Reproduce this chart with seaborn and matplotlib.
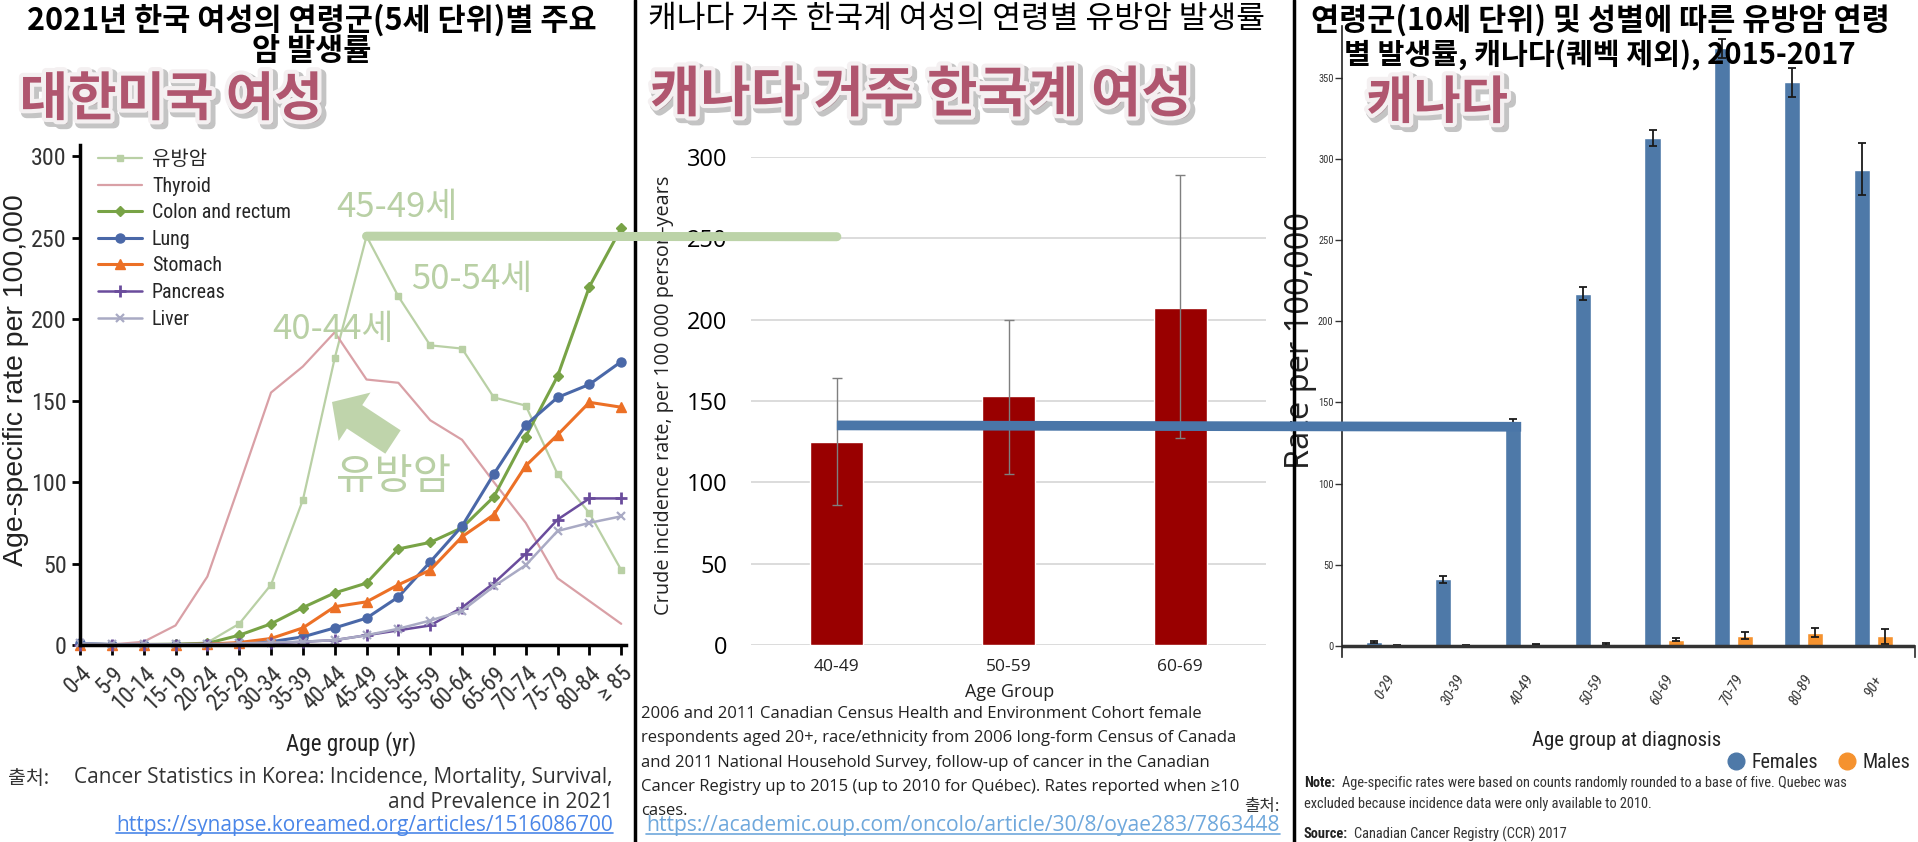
import matplotlib
matplotlib.use("Agg")
import numpy as np
import pandas as pd
import seaborn as sns
import matplotlib.pyplot as plt
import matplotlib.patheffects as pe
from matplotlib import font_manager
from matplotlib.lines import Line2D
from matplotlib.patches import ConnectionPatch, FancyArrow
from matplotlib.transforms import Affine2D, IdentityTransform

# ---- 한국 여성 2021, 5세 단위 (per 100,000)
ages_kr = ['0-4', '5-9', '10-14', '15-19', '20-24', '25-29', '30-34', '35-39', '40-44',
           '45-49', '50-54', '55-59', '60-64', '65-69', '70-74', '75-79', '80-84', '≥ 85']
breast = [0.5, 0.3, 0.3, 0.5, 1.5, 13, 37, 89, 176, 251, 214, 184, 182, 152, 147, 105, 81, 46]
thyroid = [0.3, 0.3, 2, 12, 42, 98, 155, 171, 192, 163, 161, 138, 126, 100, 75, 41, 27, 13]
colon = [0.5, 0.3, 0.3, 0.5, 1, 6, 13, 23, 32, 38, 59, 63, 72, 91, 128, 165, 220, 256]
lung = [1, 0.3, 0.3, 0.3, 0.5, 1, 2, 5, 10.5, 16.5, 29.5, 51, 73, 105, 135, 152, 160, 174]
stomach = [0.3, 0.3, 0.3, 0.3, 0.5, 1.5, 4, 10.5, 23.5, 26.5, 37, 46, 66.5, 80, 110, 129, 149, 146]
pancreas = [0.3, 0.3, 0.3, 0.3, 0.3, 0.5, 1, 2, 3, 6, 9, 12, 23, 38, 56, 77, 90, 90]
liver = [1, 0.5, 0.5, 0.5, 0.5, 1, 1.5, 2, 3, 6, 10, 15, 21, 36, 49, 70, 75, 79]
series_names = ['유방암', 'Thyroid', 'Colon and rectum', 'Lung', 'Stomach', 'Pancreas', 'Liver']
series_vals = [breast, thyroid, colon, lung, stomach, pancreas, liver]

# ---- 캐나다 거주 한국계 여성
ages_ca = ['40-49', '50-59', '60-69']
kc_rate = [125, 153, 207]
kc_low = [86, 105, 127]
kc_high = [164, 200, 289]

# ---- 캐나다 (CCR 2015-2017)
ages_ccr = ['0-29', '30-39', '40-49', '50-59', '60-69', '70-79', '80-89', '90+']
fem_rate = [2.5, 41, 137, 217, 313, 368, 347, 293]
fem_low = [1.8, 39, 134, 213, 308, 362, 338, 278]
fem_high = [3.2, 43, 140, 221, 318, 374, 356, 310]
male_rate = [0.5, 0.5, 0.8, 1.5, 3.8, 6.2, 8, 6]
male_low = [0.2, 0.2, 0.4, 0.9, 2.9, 4.5, 5.5, 1.5]
male_high = [0.8, 0.8, 1.2, 2.1, 4.8, 8.5, 11, 10.5]

# 스타일
styles = {
    '유방암': dict(c='#b9d0a5', m='s', ms=4.5, lw=1.6, mew=1),
    'Thyroid': dict(c='#d9a0a6', m=None, ms=0, lw=1.6, mew=1),
    'Colon and rectum': dict(c='#78a346', m='D', ms=5.5, lw=2.2, mew=1),
    'Lung': dict(c='#4a68a8', m='o', ms=6.5, lw=2.2, mew=1),
    'Stomach': dict(c='#ec7026', m='^', ms=7, lw=2.2, mew=1),
    'Pancreas': dict(c='#6a4c9c', m='+', ms=9, lw=1.8, mew=2),
    'Liver': dict(c='#a9aac4', m='x', ms=6, lw=1.8, mew=1.6),
}
PINK = '#b0566f'
SAGE = '#b9d0a5'

sns.set_theme(style="white")
installed = {f.name for f in font_manager.fontManager.ttflist}
narrow = next((f for f in ["Roboto Condensed", "Liberation Sans Narrow", "Arial Narrow"] if f in installed), None)
KR = "Noto Sans CJK KR"
base = "Liberation Sans"
plt.rcParams["font.family"] = [base, KR, "DejaVu Sans"]
cond = [narrow or base, KR, "DejaVu Sans"]
k = 1.15 if narrow else 1.0
gothic = ["Open Sans", KR]

W, H = 1918, 842
fig = plt.figure(figsize=(W / 100, H / 100), dpi=100)
fig.patch.set_facecolor("white")
P = Affine2D().scale(1 / W, -1 / H).translate(0, 1) + fig.transFigure


def box(x0, x1, ytop, ybot):
    return [x0 / W, 1 - ybot / H, (x1 - x0) / W, (ybot - ytop) / H]


def put(x, y, s, **kw):
    return fig.text(x, y, s, transform=P, **kw)


# ================= 왼쪽: 한국 여성 =================
ax1 = fig.add_axes(box(80, 626, 145, 645))
xk = np.arange(len(ages_kr))
for name, vals in zip(series_names, series_vals):
    st = styles[name]
    sns.lineplot(x=xk, y=vals, ax=ax1, label=name, color=st['c'], marker=st['m'],
                 markersize=st['ms'], lw=st['lw'], markeredgecolor=st['c'],
                 markeredgewidth=st['mew'], clip_on=False)
ax1.set_xlim(0, 17.15)
ax1.set_ylim(0, 307)
ax1.set_yticks(range(0, 301, 50))
ax1.set_xticks(xk)
ax1.set_xticklabels(ages_kr, rotation=45, ha='right', rotation_mode='anchor')
sns.despine(ax=ax1)
for s in ['left', 'bottom']:
    ax1.spines[s].set_color('black')
    ax1.spines[s].set_linewidth(2.5)
ax1.tick_params(axis='both', direction='out', length=6, width=2, color='black',
                labelcolor='#333333', left=True, bottom=True)
ax1.tick_params(axis='y', labelsize=15 * k)
ax1.tick_params(axis='x', length=7, pad=5, labelsize=14.5 * k)
for lab in ax1.get_xticklabels() + ax1.get_yticklabels():
    lab.set_fontfamily(cond)
ax1.set_xlabel('Age group (yr)', fontsize=14.5 * k, color='#222222', family=cond)
ax1.xaxis.set_label_coords(0.496, -0.198)
ax1.xaxis.label.set_va('center')
ax1.set_ylabel('Age-specific rate per 100,000', fontsize=20.5, color='#222222')
ax1.yaxis.set_label_coords(-0.117, 0.53)
ax1.yaxis.label.set_va('center')
h, l = ax1.get_legend_handles_labels()
ax1.legend(h, l, loc='upper left', bbox_to_anchor=(98 / W, 1 - 150 / H), bbox_transform=fig.transFigure,
           frameon=False, borderaxespad=0, borderpad=0, handlelength=2.2, handletextpad=0.5,
           labelspacing=0.38, prop={'family': cond, 'size': 12.5 * k})

# 주석
put(397, 208, '45-49세', ha='center', va='center', fontsize=25, color=SAGE, family=[KR])
put(472, 279, '50-54세', ha='center', va='center', fontsize=25, color=SAGE, family=[KR])
put(333, 330, '40-44세', ha='center', va='center', fontsize=25, color=SAGE, family=[KR])
put(394, 478, '유방암', ha='center', va='center', fontsize=30, color=SAGE, family=[KR])
fig.add_artist(FancyArrow(393, 442, -61, -40, width=28, head_width=58, head_length=27,
                          length_includes_head=True, transform=P, color='#bfd4ab', lw=0))

# ================= 가운데: 캐나다 거주 한국계 =================
ax2 = fig.add_axes(box(751, 1266, 157, 645))
sns.barplot(x=ages_ca, y=kc_rate, color='#990000', saturation=1, width=0.31, ax=ax2, zorder=2)
xs2 = [p.get_x() + p.get_width() / 2 for p in ax2.patches]
ax2.errorbar(xs2, kc_rate, yerr=[np.subtract(kc_rate, kc_low), np.subtract(kc_high, kc_rate)],
             fmt='none', ecolor='#7f7f7f', elinewidth=1, capsize=3.5, capthick=1, zorder=3)
ax2.set_xlim(-0.5, 2.5)
ax2.set_ylim(0, 300)
ax2.set_yticks(range(0, 301, 50))
ax2.yaxis.grid(True, color='#d9d9d9', lw=1.3)
ax2.set_axisbelow(True)
sns.despine(ax=ax2, left=True, bottom=True)
ax2.tick_params(axis='y', length=0, labelsize=17, pad=17, labelcolor='black')
ax2.tick_params(axis='x', length=0, labelsize=12.5, pad=10, labelcolor='#222222')
for lab in ax2.get_xticklabels() + ax2.get_yticklabels():
    lab.set_fontfamily(gothic)
ax2.set_xlabel('Age Group', fontsize=13, family=gothic, color='#222222')
ax2.xaxis.set_label_coords(0.503, -0.096)
ax2.xaxis.label.set_va('center')
ax2.set_ylabel('Crude incidence rate, per 100 000 person-years', fontsize=14.3, family=gothic, color='#222222')
ax2.yaxis.set_label_coords(-0.169, 0.512)
ax2.yaxis.label.set_va('center')

# ================= 오른쪽: 캐나다 =================
ax3 = fig.add_axes(box(1342, 1915, 25.6, 657.4))
df_ccr = pd.DataFrame({'age': ages_ccr * 2, 'rate': fem_rate + male_rate,
                       'sex': ['Females'] * len(ages_ccr) + ['Males'] * len(ages_ccr)})
pal = {'Females': '#4e79a8', 'Males': '#f5922f'}
sns.barplot(data=df_ccr, x='age', y='rate', hue='sex', palette=pal, saturation=1, width=0.66,
            gap=0.3, errorbar=None, legend=False, ax=ax3)
for cont, lo, hi, r in zip(ax3.containers, [fem_low, male_low], [fem_high, male_high], [fem_rate, male_rate]):
    xs = [b.get_x() + b.get_width() / 2 for b in cont]
    ax3.errorbar(xs, r, yerr=[np.subtract(r, lo), np.subtract(hi, r)], fmt='none', ecolor='#1a1a1a',
                 elinewidth=1.3, capsize=3, capthick=1.3)
ax3.axhline(0, color='#333333', lw=2.5)
ax3.set_ylim(-7, 382)
ax3.set_xlim(-0.62, 7.6)
ax3.set_yticks(range(0, 351, 50))
ax3.set_xticks(range(len(ages_ccr)))
ax3.set_xticklabels(ages_ccr, rotation=60, ha='right', rotation_mode='anchor')
for s in ['top', 'bottom']:
    ax3.spines[s].set_visible(False)
ax3.spines['left'].set_color('#222222')
ax3.spines['left'].set_linewidth(1.2)
ax3.spines['right'].set_color('#333333')
ax3.spines['right'].set_bounds(-7, 0)
ax3.tick_params(axis='y', left=True, direction='out', length=5, width=1, color='#333333',
                labelsize=6.5 * k, pad=1, labelcolor='#333333')
ax3.tick_params(axis='x', bottom=False, labelsize=9.5 * k, pad=5, labelcolor='#333333')
for lab in ax3.get_xticklabels() + ax3.get_yticklabels():
    lab.set_fontfamily(cond)
for lab in ax3.get_xticklabels():
    lab.set_fontstyle('italic')
ax3.set_xlabel('Age group at diagnosis', fontsize=13 * k, family=cond, color='#222222')
ax3.xaxis.set_label_coords(0.497, -0.131)
ax3.xaxis.label.set_va('center')
ax3.set_ylabel('Rate per 100,000', fontsize=23.5, family=gothic, color='#222222')
ax3.yaxis.set_label_coords(-0.073, 0.502)
ax3.yaxis.label.set_va('center')
leg_h = [Line2D([], [], ls='', marker='o', ms=12, color=pal[s]) for s in pal]
fig.legend(leg_h, list(pal), loc='center left', bbox_to_anchor=(1728 / W, 1 - 762 / H), ncol=2,
           frameon=False, handlelength=0.8, handletextpad=0.4, columnspacing=1.0, borderaxespad=0,
           borderpad=0, prop={'family': cond, 'size': 12.5 * k})

# ================= 연결선 =================
fig.add_artist(ConnectionPatch(xyA=(9, 251), coordsA=ax1.transData, xyB=(0, 251), coordsB=ax2.transData,
                               color='#bcd3a8', lw=6.5, capstyle='round', zorder=5))
bar40 = ax3.containers[0][2]
fig.add_artist(ConnectionPatch(xyA=(0, 135), coordsA=ax2.transData,
                               xyB=(bar40.get_x() + bar40.get_width(), 135), coordsB=ax3.transData,
                               color='#4a76a8', lw=7, capstyle='butt', zorder=5))

# 구분선
for xd in [635, 1294]:
    fig.add_artist(Line2D([xd, xd], [0, H], transform=P, color='black', lw=2.5))

# ================= 제목 =================
put(312, 20, '2021년 한국 여성의 연령군(5세 단위)별 주요', ha='center', va='center', fontsize=22,
    fontweight='bold', family=[KR], color='black')
put(312, 51, '암 발생률', ha='center', va='center', fontsize=22, fontweight='bold', family=[KR], color='black')
put(648, 19, '캐나다 거주 한국계 여성의 연령별 유방암 발생률', ha='left', va='center', fontsize=22.5,
    fontweight='medium', family=[KR], color='black')
put(1600, 20, '연령군(10세 단위) 및 성별에 따른 유방암 연령', ha='center', va='center', fontsize=22,
    fontweight='bold', family=[KR], color='black')
put(1600, 55, '별 발생률, 캐나다(퀘벡 제외), 2015-2017', ha='center', va='center', fontsize=21,
    fontweight='bold', family=[KR], color='black')

glow = [pe.Stroke(linewidth=8, foreground='#8a8a8a', offset=(2.5, -2.5), alpha=0.5),
        pe.Stroke(linewidth=6, foreground='#f4f0f1'), pe.Normal()]
put(171, 100, '대한미국 여성', ha='center', va='center', fontsize=38, fontweight='black', family=[KR],
    color=PINK, path_effects=glow)
put(921, 95, '캐나다 거주 한국계 여성', ha='center', va='center', fontsize=39.5, fontweight='black',
    family=[KR], color=PINK, path_effects=glow)
put(1437, 103, '캐나다', ha='center', va='center', fontsize=37, fontweight='black', family=[KR],
    color=PINK, path_effects=glow)

# ================= 출처 / 주석 =================
put(8, 778, '출처:', ha='left', va='center', fontsize=14, family=[KR], color='#333333')
put(613, 778, 'Cancer Statistics in Korea: Incidence, Mortality, Survival,', ha='right', va='center',
    fontsize=15, family=gothic, color='#333333')
put(613, 803, 'and Prevalence in 2021', ha='right', va='center', fontsize=15, family=gothic, color='#333333')
link1 = put(613, 825, 'https://synapse.koreamed.org/articles/1516086700', ha='right', va='center',
            fontsize=15, family=gothic, color='#4a86e8')

caption = ['2006 and 2011 Canadian Census Health and Environment Cohort female',
           'respondents aged 20+, race/ethnicity from 2006 long-form Census of Canada',
           'and 2011 National Household Survey, follow-up of cancer in the Canadian',
           'Cancer Registry up to 2015 (up to 2010 for Québec). Rates reported when ≥10',
           'cases.']
for i, line in enumerate(caption):
    put(641, 714 + 24.3 * i, line, ha='left', va='center', fontsize=12, family=gothic + ['DejaVu Sans'],
        color='#222222')
put(1262, 806, '출처:', ha='center', va='center', fontsize=12, family=[KR], color='#333333')
link2 = put(646, 826, 'https://academic.oup.com/oncolo/article/30/8/oyae283/7863448', ha='left',
            va='center', fontsize=15.2, family=gothic, color='#6fa8dc')

note_fam = cond
put(1304, 783, 'Note:', ha='left', va='center', fontsize=9 * k, fontweight='bold', family=note_fam, color='#222222')
put(1342, 783, 'Age-specific rates were based on counts randomly rounded to a base of five. Quebec was',
    ha='left', va='center', fontsize=9 * k, family=note_fam, color='#333333')
put(1304, 804, 'excluded because incidence data were only available to 2010.', ha='left', va='center',
    fontsize=9 * k, family=note_fam, color='#333333')
put(1304, 834, 'Source:', ha='left', va='center', fontsize=9 * k, fontweight='bold', family=note_fam, color='#222222')
put(1354, 834, 'Canadian Cancer Registry (CCR) 2017', ha='left', va='center', fontsize=9 * k,
    family=note_fam, color='#333333')

# 링크 밑줄
fig.canvas.draw()
for t in [link1, link2]:
    bb = t.get_window_extent()
    fig.add_artist(Line2D([bb.x0, bb.x1], [bb.y0 + 3, bb.y0 + 3], transform=IdentityTransform(),
                          color=t.get_color(), lw=1.2))

fig.savefig('out.png', dpi=100, facecolor='white')
